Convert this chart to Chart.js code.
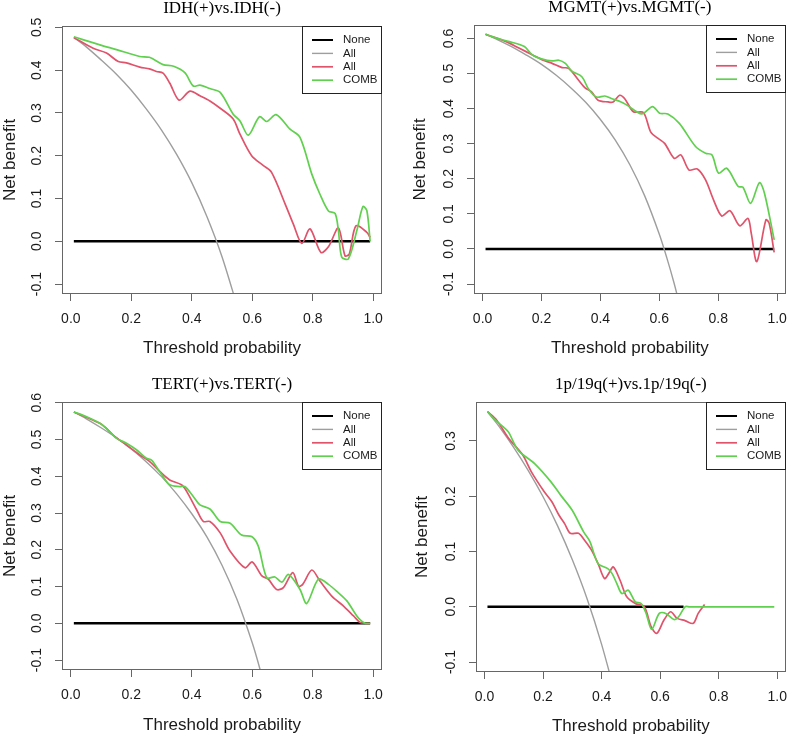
<!DOCTYPE html>
<html>
<head>
<meta charset="utf-8">
<script src="https://cdn.jsdelivr.net/npm/chart.js@4.4.1/dist/chart.umd.min.js"></script>
<style>
    html, body { margin: 0; padding: 0; background: #fff; }
    #wrap { position: relative; width: 797px; height: 737px; overflow: hidden; background: #fff; }
    #wrap canvas { position: absolute; }
</style>
</head>
<body>
<div id="wrap">
    <canvas id="c1" width="398" height="368" style="left:0px;top:0px"></canvas>
    <canvas id="c2" width="399" height="368" style="left:398px;top:0px"></canvas>
    <canvas id="c3" width="398" height="369" style="left:0px;top:368px"></canvas>
    <canvas id="c4" width="399" height="369" style="left:398px;top:368px"></canvas>
</div>
<script>
// 共用刻度與圖例
const xTicks = [0, 0.2, 0.4, 0.6, 0.8, 1.0];
const xRange = [-0.0292, 1.0292];
const legendLabels = ['None', 'All', 'All', 'COMB'];

// IDH(+)vs.IDH(-)
const idhYTicks = [-0.1, 0, 0.1, 0.2, 0.3, 0.4, 0.5];
const idhYRange = [-0.1232, 0.5032];
const idhNoneX = [0.01, 0.99];
const idhNoneY = [0, 0];
const idhTreatAllX = [0.01, 0.05, 0.10, 0.15, 0.20, 0.25, 0.30, 0.35, 0.40, 0.45, 0.50, 0.55];
const idhTreatAllY = [0.477, 0.455, 0.424, 0.391, 0.353, 0.309, 0.260, 0.203, 0.137, 0.058, -0.036, -0.151];
const idhModelX = [0.01, 0.074, 0.118, 0.157, 0.184, 0.228, 0.26, 0.283, 0.305, 0.327, 0.358, 0.394, 0.427, 0.46, 0.494, 0.537, 0.559, 0.598, 0.637, 0.664, 0.709, 0.736, 0.764, 0.791, 0.827, 0.852, 0.885, 0.907, 0.921, 0.943, 0.979, 0.99];
const idhModelY = [0.476, 0.451, 0.44, 0.42, 0.417, 0.407, 0.403, 0.397, 0.393, 0.37, 0.330, 0.351, 0.34, 0.328, 0.311, 0.286, 0.251, 0.2, 0.177, 0.161, 0.087, 0.04, -0.005, 0.029, -0.026, -0.013, 0.031, -0.034, -0.03, 0.036, 0.021, 0.009];
const idhCombX = [0.01, 0.096, 0.151, 0.228, 0.26, 0.305, 0.34, 0.377, 0.405, 0.427, 0.46, 0.494, 0.537, 0.559, 0.587, 0.624, 0.648, 0.679, 0.725, 0.758, 0.797, 0.824, 0.852, 0.874, 0.885, 0.896, 0.918, 0.946, 0.966, 0.979, 0.99];
const idhCombY = [0.478, 0.459, 0.448, 0.432, 0.43, 0.413, 0.409, 0.394, 0.363, 0.365, 0.357, 0.348, 0.297, 0.282, 0.248, 0.291, 0.280, 0.296, 0.262, 0.243, 0.157, 0.11, 0.071, 0.065, 0.025, -0.037, -0.041, 0.025, 0.081, 0.072, 0.0];

// MGMT(+)vs.MGMT(-)
const mgmtYTicks = [-0.1, 0, 0.1, 0.2, 0.3, 0.4, 0.5, 0.6];
const mgmtYRange = [-0.1284, 0.6384];
const mgmtNoneX = [0.01, 0.99];
const mgmtNoneY = [0, 0];
const mgmtTreatAllX = [0.01, 0.05, 0.10, 0.15, 0.20, 0.25, 0.30, 0.35, 0.40, 0.45, 0.50, 0.55, 0.60, 0.625, 0.65, 0.675];
const mgmtTreatAllY = [0.612, 0.597, 0.576, 0.552, 0.526, 0.495, 0.459, 0.418, 0.369, 0.311, 0.240, 0.152, 0.042, -0.024, -0.097, -0.18];
const mgmtModelX = [0.01, 0.08, 0.125, 0.17, 0.203, 0.236, 0.27, 0.292, 0.326, 0.348, 0.37, 0.392, 0.426, 0.443, 0.465, 0.482, 0.512, 0.546, 0.571, 0.596, 0.618, 0.651, 0.673, 0.701, 0.729, 0.757, 0.784, 0.812, 0.84, 0.873, 0.901, 0.912, 0.931, 0.962, 0.973, 0.99];
const mgmtModelY = [0.612, 0.591, 0.572, 0.553, 0.539, 0.529, 0.517, 0.515, 0.481, 0.459, 0.448, 0.424, 0.419, 0.419, 0.438, 0.429, 0.391, 0.389, 0.333, 0.315, 0.301, 0.258, 0.268, 0.225, 0.228, 0.197, 0.14, 0.094, 0.109, 0.066, 0.087, 0.045, -0.036, 0.083, 0.073, -0.01];
const mgmtCombX = [0.01, 0.047, 0.091, 0.142, 0.169, 0.203, 0.236, 0.259, 0.281, 0.303, 0.337, 0.359, 0.387, 0.415, 0.437, 0.47, 0.49, 0.54, 0.577, 0.601, 0.629, 0.668, 0.723, 0.757, 0.779, 0.801, 0.829, 0.868, 0.884, 0.91, 0.94, 0.957, 0.99];
const mgmtCombY = [0.612, 0.601, 0.591, 0.577, 0.553, 0.541, 0.536, 0.538, 0.529, 0.507, 0.491, 0.457, 0.433, 0.436, 0.429, 0.419, 0.41, 0.385, 0.406, 0.387, 0.385, 0.358, 0.292, 0.273, 0.268, 0.216, 0.23, 0.178, 0.176, 0.13, 0.189, 0.159, 0.026];

// TERT(+)vs.TERT(-)
const tertYTicks = [-0.1, 0, 0.1, 0.2, 0.3, 0.4, 0.5, 0.6];
const tertYRange = [-0.127, 0.602];
const tertNoneX = [0.01, 0.99];
const tertNoneY = [0, 0];
const tertTreatAllX = [0.01, 0.05, 0.10, 0.15, 0.20, 0.25, 0.30, 0.35, 0.40, 0.45, 0.50, 0.55, 0.60, 0.625, 0.65];
const tertTreatAllY = [0.575, 0.557, 0.532, 0.505, 0.474, 0.439, 0.399, 0.352, 0.298, 0.235, 0.158, 0.064, -0.053, -0.123, -0.203];
const tertModelX = [0.01, 0.096, 0.118, 0.14, 0.184, 0.228, 0.261, 0.294, 0.327, 0.366, 0.383, 0.416, 0.438, 0.46, 0.494, 0.527, 0.576, 0.6, 0.632, 0.653, 0.681, 0.703, 0.734, 0.753, 0.767, 0.797, 0.824, 0.863, 0.902, 0.935, 0.957, 0.975, 0.99];
const tertModelY = [0.575, 0.544, 0.53, 0.512, 0.485, 0.458, 0.44, 0.413, 0.39, 0.377, 0.359, 0.309, 0.277, 0.277, 0.246, 0.196, 0.151, 0.167, 0.129, 0.12, 0.092, 0.097, 0.138, 0.101, 0.106, 0.145, 0.115, 0.074, 0.047, 0.02, 0.002, 0.0, 0.0];
const tertCombX = [0.01, 0.052, 0.096, 0.129, 0.151, 0.184, 0.217, 0.25, 0.267, 0.283, 0.305, 0.327, 0.36, 0.377, 0.405, 0.427, 0.46, 0.494, 0.527, 0.565, 0.598, 0.62, 0.648, 0.675, 0.698, 0.72, 0.758, 0.78, 0.819, 0.852, 0.885, 0.913, 0.946, 0.962, 0.975, 0.99];
const tertCombY = [0.575, 0.562, 0.544, 0.521, 0.503, 0.49, 0.472, 0.449, 0.444, 0.426, 0.399, 0.377, 0.372, 0.372, 0.345, 0.322, 0.311, 0.277, 0.272, 0.24, 0.236, 0.21, 0.124, 0.126, 0.112, 0.133, 0.092, 0.054, 0.12, 0.106, 0.083, 0.061, 0.02, 0.006, 0.0, 0.0];

// 1p/19q(+)vs.1p/19q(-)
const codelYTicks = [-0.1, 0, 0.1, 0.2, 0.3];
const codelYRange = [-0.118, 0.3705];
const codelNoneX = [0.01, 0.68];
const codelNoneY = [0, 0];
const codelTreatAllX = [0.01, 0.05, 0.10, 0.15, 0.20, 0.25, 0.30, 0.35, 0.40, 0.45];
const codelTreatAllY = [0.353, 0.326, 0.288, 0.246, 0.199, 0.146, 0.085, 0.015, -0.068, -0.165];
const codelModelX = [0.01, 0.041, 0.082, 0.13, 0.16, 0.204, 0.23, 0.254, 0.274, 0.293, 0.321, 0.341, 0.365, 0.388, 0.41, 0.424, 0.44, 0.463, 0.486, 0.515, 0.546, 0.569, 0.589, 0.613, 0.636, 0.658, 0.685, 0.713, 0.73, 0.752];
const codelModelY = [0.353, 0.338, 0.305, 0.275, 0.244, 0.208, 0.19, 0.166, 0.15, 0.133, 0.133, 0.121, 0.103, 0.078, 0.051, 0.06, 0.072, 0.048, 0.018, 0.006, 0.0, -0.036, -0.048, -0.024, -0.009, -0.021, -0.025, -0.03, -0.012, 0.004];
const codelCombX = [0.01, 0.03, 0.065, 0.082, 0.115, 0.171, 0.227, 0.26, 0.299, 0.338, 0.36, 0.388, 0.421, 0.436, 0.452, 0.469, 0.491, 0.515, 0.535, 0.552, 0.571, 0.597, 0.619, 0.647, 0.663, 0.685, 0.7, 0.8, 0.9, 0.99];
const codelCombY = [0.353, 0.341, 0.325, 0.316, 0.283, 0.259, 0.226, 0.202, 0.175, 0.136, 0.118, 0.078, 0.069, 0.06, 0.042, 0.024, 0.03, 0.009, 0.006, -0.012, -0.041, -0.012, -0.012, -0.023, -0.018, 0.0, 0.0, 0.0, 0.0, 0.0];

// 樣式
const sansFont = '"Liberation Sans", Arial, sans-serif';
const serifFont = '"Liberation Serif", "Times New Roman", serif';
const lineColors = ['#000000', '#9e9e9e', '#df536b', '#61d04f'];
const lineWidths = [2.5, 1.4, 1.7, 1.7];
const axisColor = '#666666';
const textColor = '#1a1a1a';

// 每個面板的位置 (canvas 內座標)
const panels = [
    { id: 'c1', title: 'IDH(+)vs.IDH(-)', yTicks: idhYTicks, yRange: idhYRange,
      series: [[idhNoneX, idhNoneY], [idhTreatAllX, idhTreatAllY], [idhModelX, idhModelY], [idhCombX, idhCombY]],
      area: { l: 62, t: 26, r: 382, b: 294 }, padLeft: 0, xH: 65 },
    { id: 'c2', title: 'MGMT(+)vs.MGMT(-)', yTicks: mgmtYTicks, yRange: mgmtYRange,
      series: [[mgmtNoneX, mgmtNoneY], [mgmtTreatAllX, mgmtTreatAllY], [mgmtModelX, mgmtModelY], [mgmtCombX, mgmtCombY]],
      area: { l: 76, t: 25, r: 394, b: 294 }, padLeft: 12, xH: 65 },
    { id: 'c3', title: 'TERT(+)vs.TERT(-)', yTicks: tertYTicks, yRange: tertYRange,
      series: [[tertNoneX, tertNoneY], [tertTreatAllX, tertTreatAllY], [tertModelX, tertModelY], [tertCombX, tertCombY]],
      area: { l: 62, t: 34, r: 382, b: 302 }, padLeft: 0, xH: 66 },
    { id: 'c4', title: '1p/19q(+)vs.1p/19q(-)', yTicks: codelYTicks, yRange: codelYRange,
      series: [[codelNoneX, codelNoneY], [codelTreatAllX, codelTreatAllY], [codelModelX, codelModelY], [codelCombX, codelCombY]],
      area: { l: 78, t: 34, r: 397, b: 304 }, padLeft: 14, xH: 65 }
];

// 外框、標題、圖例
const decoPlugin = {
    id: 'deco',
    afterDraw(chart, args, opts) {
        const ctx = chart.ctx;
        const a = chart.chartArea;
        ctx.save();

        // 繪圖區外框
        ctx.strokeStyle = axisColor;
        ctx.lineWidth = 1;
        ctx.strokeRect(Math.round(a.left) + 0.5, Math.round(a.top) + 0.5,
            Math.round(a.right - a.left) - 1, Math.round(a.bottom - a.top) - 1);

        // 主標題
        ctx.fillStyle = '#000';
        ctx.font = '17px ' + serifFont;
        ctx.textAlign = 'center';
        ctx.textBaseline = 'middle';
        ctx.fillText(opts.title, (a.left + a.right) / 2, a.top - 17);

        // 圖例 (右上角)
        const bx = Math.round(a.right) - 80;
        const by = Math.round(a.top);
        ctx.fillStyle = '#fff';
        ctx.fillRect(bx, by, 80, 68);
        ctx.strokeStyle = '#222';
        ctx.strokeRect(bx + 0.5, by + 0.5, 79, 67);
        ctx.font = '11.5px ' + sansFont;
        ctx.textAlign = 'left';
        chart.data.datasets.forEach((ds, i) => {
            const ry = by + 14 + i * 13.4;
            ctx.strokeStyle = ds.borderColor;
            ctx.lineWidth = Math.min(ds.borderWidth, 2);
            ctx.beginPath();
            ctx.moveTo(bx + 10, ry);
            ctx.lineTo(bx + 31, ry);
            ctx.stroke();
            ctx.fillStyle = textColor;
            ctx.fillText(ds.label, bx + 41, ry);
        });
        ctx.restore();
    }
};

function toPoints(xs, ys) {
    return xs.map((x, i) => ({ x: x, y: ys[i] }));
}

function makePanel(p) {
    const canvas = document.getElementById(p.id);
    const W = canvas.width, H = canvas.height;

    const datasets = p.series.map((s, i) => ({
        label: legendLabels[i],
        data: toPoints(s[0], s[1]),
        borderColor: lineColors[i],
        borderWidth: lineWidths[i],
        pointRadius: 0,
        fill: false,
        tension: i === 0 ? 0 : 0.3,
        clip: 0,
        order: 3 - i
    }));

    const tickFont = { family: sansFont, size: 14 };
    const titleFont = { family: sansFont, size: 17 };
    const gridOpts = { display: true, drawOnChartArea: false, drawTicks: true, tickLength: 7, color: axisColor, lineWidth: 1 };

    return new Chart(canvas, {
        type: 'line',
        data: { datasets: datasets },
        plugins: [decoPlugin],
        options: {
            responsive: false,
            animation: false,
            events: [],
            layout: {
                padding: {
                    left: p.padLeft,
                    top: p.area.t,
                    right: W - p.area.r,
                    bottom: H - p.area.b - p.xH
                }
            },
            plugins: {
                legend: { display: false },
                title: { display: false },
                tooltip: { enabled: false },
                deco: { title: p.title }
            },
            scales: {
                x: {
                    type: 'linear',
                    min: xRange[0],
                    max: xRange[1],
                    afterBuildTicks: s => { s.ticks = xTicks.map(v => ({ value: v })); },
                    afterFit: s => { s.height = p.xH; },
                    grid: gridOpts,
                    border: { display: false },
                    ticks: { callback: v => Number(v).toFixed(1), font: tickFont, color: textColor, padding: 10, maxRotation: 0, autoSkip: false },
                    title: { display: true, text: 'Threshold probability', font: titleFont, color: textColor, padding: 0 }
                },
                y: {
                    type: 'linear',
                    min: p.yRange[0],
                    max: p.yRange[1],
                    afterBuildTicks: s => { s.ticks = p.yTicks.map(v => ({ value: v })); },
                    afterFit: s => { s.width = p.area.l - p.padLeft; },
                    grid: gridOpts,
                    border: { display: false },
                    ticks: { callback: v => Number(v).toFixed(1), font: tickFont, color: textColor, padding: 6,
                             minRotation: 90, maxRotation: 90, crossAlign: 'center', autoSkip: false },
                    title: { display: true, text: 'Net benefit', font: titleFont, color: textColor, padding: 0 }
                }
            }
        }
    });
}

panels.forEach(makePanel);
</script>
</body>
</html>
